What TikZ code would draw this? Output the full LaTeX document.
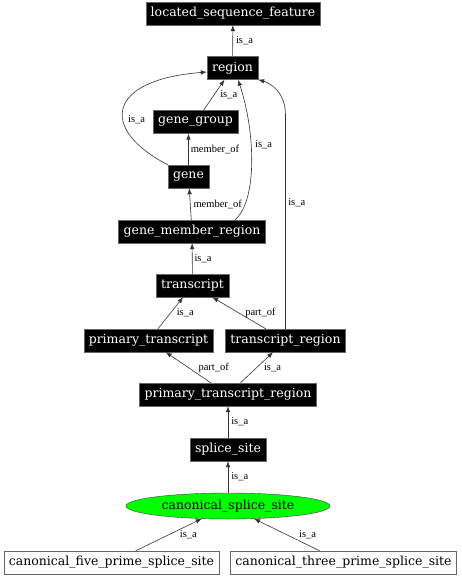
\documentclass[tikz,border=0pt]{standalone}
\usepackage{fontspec}
\setmainfont{DejaVu Serif}
\newfontfamily\edgefont{Liberation Serif}
\usetikzlibrary{arrows.meta,shapes.geometric,calc}

\begin{document}
\begin{tikzpicture}[
  x=1pt, y=-1pt,
  font=\fontsize{12.5}{14}\selectfont,
  term/.style={draw=black!60, fill=black, text=white, inner xsep=5pt, inner ysep=0pt, minimum height=23pt},
  leaf/.style={draw=black!60, fill=white, inner xsep=5pt, inner ysep=0pt, minimum height=23pt},
  focus/.style={ellipse, draw=black!75, fill=green, minimum width=204pt, minimum height=26pt, inner sep=0pt},
  lbl/.style={font=\edgefont\fontsize{10.5}{12}\selectfont, text=black, inner sep=1pt, right},
  >={Latex[length=6pt, width=4.5pt]},
  link/.style={draw, black!80, line width=0.6pt, ->},
  every edge/.style={link}
]
\useasboundingbox (0,0) rectangle (461,576);

\node[term] (lsf)      at (233,13.5)   {located\_sequence\_feature};
\node[term] (region)   at (232.5,68)   {region};
\node[term] (genegrp)  at (195.5,122)  {gene\_group};
\node[term] (gene)     at (188.5,176.5){gene};
\node[term] (gmr)      at (192,231.5)  {gene\_member\_region};
\node[term] (tscript)  at (192.5,285.5){transcript};
\node[term] (primtr)   at (148.5,340.5){primary\_transcript};
\node[term] (trreg)    at (285.5,340.5){transcript\_region};
\node[term] (ptreg)    at (228,394.5)  {primary\_transcript\_region};
\node[term] (splice)   at (228,449.5)  {splice\_site};
\node[focus] (canon)   at (228,506)    {canonical\_splice\_site};
\node[leaf] (fiveps)   at (111.5,562.5){canonical\_five\_prime\_splice\_site};
\node[leaf] (threeps)  at (343.5,562.5){canonical\_three\_prime\_splice\_site};

% straight is_a / part_of / member_of links
\draw (region) edge node[lbl, xshift=2pt] {is\_a} (lsf);
\draw (genegrp) edge node[lbl, xshift=5pt] {is\_a} (region);
\draw (gene.north) edge node[lbl, xshift=1pt] {member\_of} (gene.north |- genegrp.south);
\draw (gmr) edge node[lbl, xshift=2pt] {member\_of} (gene);
\draw (tscript) edge node[lbl, xshift=1pt] {is\_a} (gmr);
\draw (primtr) edge node[lbl, xshift=5pt] {is\_a} (tscript);
\draw (trreg) edge node[lbl, xshift=5pt] {part\_of} (tscript);
\draw (ptreg) edge node[lbl, xshift=9pt] {part\_of} (primtr);
\draw (ptreg) edge node[lbl, xshift=6pt] {is\_a} (trreg);
\draw (splice) edge node[lbl, xshift=2pt] {is\_a} (ptreg);
\draw (canon) edge node[lbl, xshift=2pt] {is\_a} (splice);
\draw (fiveps) edge node[lbl, xshift=10pt] {is\_a} (canon);
\draw (threeps) edge node[lbl, xshift=11pt] {is\_a} (canon);

% curved links into region
\draw[link] (gene.north west) .. controls (100,130) and (105,80) ..
  node[lbl, pos=0.4, xshift=4pt] {is\_a} ($(region.west)+(0,4)$);
\draw[link] ($(gmr.north)+(43,0)$) .. controls (258,200) and (255,130) ..
  node[lbl, pos=0.6, xshift=3pt] {is\_a} ($(region.south)+(5.5,0)$);
\draw[link] (trreg.north) -- node[lbl, pos=0.59, xshift=1.5pt] {is\_a} (285.5,115)
  .. controls (285.5,92) and (270,83) .. (region.south east);

\end{tikzpicture}
\end{document}
